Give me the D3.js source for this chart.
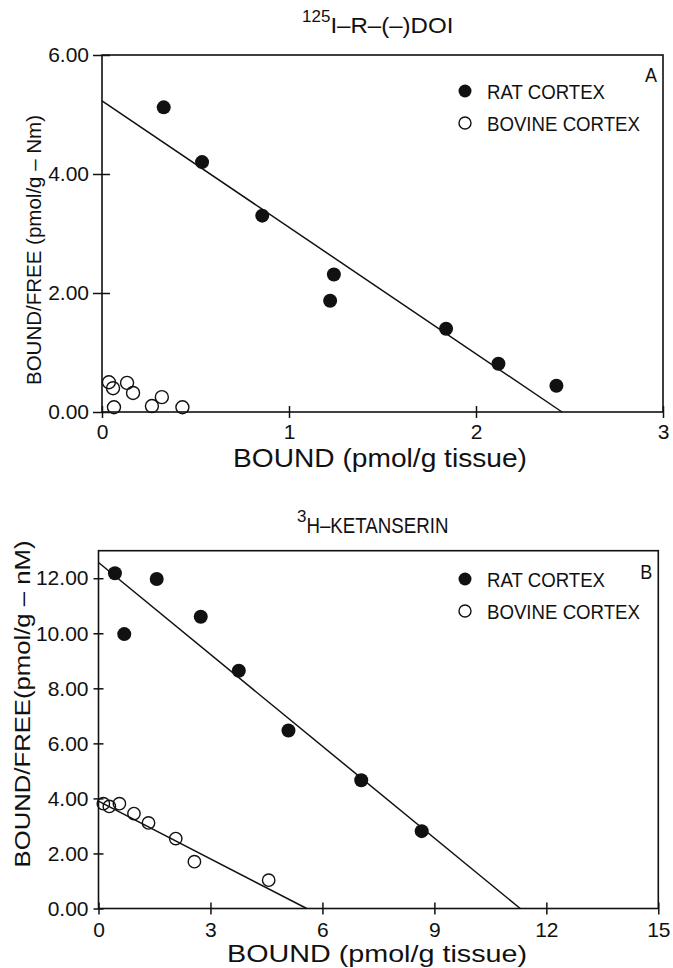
<!DOCTYPE html>
<html><head><meta charset="utf-8">
<script src="https://cdn.jsdelivr.net/npm/d3@7/dist/d3.min.js"></script>
<style>
body{margin:0;background:#fff;}
svg{display:block;font-family:"Liberation Sans",Arial,Helvetica,sans-serif;}
</style></head>
<body><svg id="c" width="673" height="968"></svg>
<script>
// ---- Panel A data: 125I-R-(-)DOI ----
const ratA_x = [0.33, 0.535, 0.857, 1.24, 1.22, 1.84, 2.12, 2.43];
const ratA_y = [5.12, 4.20, 3.30, 2.31, 1.87, 1.40, 0.81, 0.44];
const bovA_x = [0.037, 0.059, 0.134, 0.166, 0.064, 0.267, 0.32, 0.43];
const bovA_y = [0.50, 0.40, 0.49, 0.32, 0.08, 0.10, 0.25, 0.08];
const fitRatA = [[0, 5.23], [2.46, 0]];
const xTicksA = [0, 1, 2, 3];
const yTicksA = [0, 2, 4, 6];

// ---- Panel B data: 3H-KETANSERIN ----
const ratB_x = [0.44, 1.56, 0.69, 2.74, 3.76, 5.09, 7.04, 8.66];
const ratB_y = [12.18, 11.97, 9.97, 10.60, 8.64, 6.47, 4.66, 2.81];
const bovB_x = [0.13, 0.29, 0.56, 0.95, 1.34, 2.07, 2.57, 4.56];
const bovB_y = [3.81, 3.71, 3.81, 3.45, 3.11, 2.54, 1.70, 1.03];
const fitRatB = [[0, 12.57], [11.3, 0]];
const fitBovB = [[0, 3.9], [5.58, 0]];
const xTicksB = [0, 3, 6, 9, 12, 15];
const yTicksB = [0, 2, 4, 6, 8, 10, 12];

const legendLabels = ["RAT CORTEX", "BOVINE CORTEX"];

const svg = d3.select("#c");
const ink = "#111";

function panel(cfg) {
  const g = svg.append("g");
  const x = d3.scaleLinear().domain(cfg.xDom).range([cfg.left, cfg.right]);
  const y = d3.scaleLinear().domain(cfg.yDom).range([cfg.bottom, cfg.top]);

  // frame
  g.append("rect").attr("x", cfg.left).attr("y", cfg.top)
    .attr("width", cfg.right - cfg.left).attr("height", cfg.bottom - cfg.top)
    .attr("fill", "none").attr("stroke", ink).attr("stroke-width", 1.6);

  // axes outward
  const ya = g.append("g").attr("transform", `translate(${cfg.left},0)`)
    .call(d3.axisLeft(y).tickValues(cfg.yTicks).tickFormat(d3.format(".2f"))
      .tickSize(cfg.yTickOut).tickPadding(cfg.yPad));
  const xa = g.append("g").attr("transform", `translate(0,${cfg.bottom})`)
    .call(d3.axisBottom(x).tickValues(cfg.xTicks).tickFormat(d3.format("d"))
      .tickSize(cfg.xTickOut).tickPadding(cfg.xPad));
  // inward tick halves
  g.append("g").attr("transform", `translate(${cfg.left},0)`)
    .call(d3.axisLeft(y).tickValues(cfg.yTicks).tickFormat("").tickSize(-cfg.yTickIn));
  g.append("g").attr("transform", `translate(0,${cfg.bottom})`)
    .call(d3.axisBottom(x).tickValues(cfg.xTicks).tickFormat("").tickSize(-cfg.xTickIn));
  g.selectAll(".domain").remove();
  g.selectAll(".tick line").attr("stroke", ink).attr("stroke-width", 1.5);
  ya.selectAll("text").attr("font-size", cfg.tickFont).attr("fill", ink)
    .attr("font-family", "inherit");
  xa.selectAll("text").attr("font-size", cfg.tickFont).attr("fill", ink)
    .attr("font-family", "inherit");

  // fit lines
  const line = d3.line().x(d => x(d[0])).y(d => y(d[1]));
  cfg.fits.forEach(f => {
    g.append("path").attr("d", line(f)).attr("fill", "none")
      .attr("stroke", ink).attr("stroke-width", 1.5);
  });

  // points
  g.selectAll("circle.bov").data(d3.range(cfg.bx.length)).join("circle")
    .attr("class", "bov")
    .attr("cx", i => x(cfg.bx[i])).attr("cy", i => y(cfg.by[i]))
    .attr("r", cfg.rOpen).attr("fill", "none").attr("stroke", ink).attr("stroke-width", 1.4);
  g.selectAll("circle.rat").data(d3.range(cfg.rx.length)).join("circle")
    .attr("class", "rat")
    .attr("cx", i => x(cfg.rx[i])).attr("cy", i => y(cfg.ry[i]))
    .attr("r", cfg.rFill).attr("fill", ink);

  // legend
  const lg = g.append("g");
  const legLens = [118, 153];
  legendLabels.forEach((lab, i) => {
    const ly = cfg.legY + i * cfg.legGap;
    if (i === 0) lg.append("circle").attr("cx", cfg.legX).attr("cy", ly).attr("r", 6.5).attr("fill", ink);
    else lg.append("circle").attr("cx", cfg.legX).attr("cy", ly).attr("r", 6).attr("fill", "none")
      .attr("stroke", ink).attr("stroke-width", 1.4);
    lg.append("text").attr("x", cfg.legX + 22).attr("y", ly + 8)
      .attr("font-size", cfg.legFont).attr("fill", ink)
      .attr("textLength", legLens[i]).attr("lengthAdjust", "spacingAndGlyphs").text(lab);
  });
  g.append("text").attr("x", cfg.right - 6).attr("y", cfg.top + cfg.letterDy)
    .attr("text-anchor", "end").attr("font-size", 21).attr("fill", ink)
    .attr("textLength", 12).attr("lengthAdjust", "spacingAndGlyphs").text(cfg.letter);

  // title
  const t = g.append("text").attr("x", cfg.titleX).attr("y", cfg.titleY)
    .attr("font-size", cfg.titleFont).attr("fill", ink);
  t.append("tspan").attr("font-size", cfg.supFont).attr("dy", -11).text(cfg.sup);
  t.append("tspan").attr("dy", 11).attr("textLength", cfg.titleLen)
    .attr("lengthAdjust", "spacingAndGlyphs").text(cfg.title);

  // axis labels
  g.append("text").attr("x", cfg.xLabX).attr("y", cfg.xLabY).attr("text-anchor", "middle")
    .attr("font-size", cfg.xLabFont).attr("fill", ink).attr("textLength", cfg.xLabLen)
    .attr("lengthAdjust", "spacingAndGlyphs").text("BOUND (pmol/g tissue)");
  g.append("text").attr("transform", `translate(${cfg.yLabX},${cfg.yLabY}) rotate(-90)`)
    .attr("text-anchor", "middle").attr("font-size", cfg.yLabFont).attr("fill", ink)
    .attr("textLength", cfg.yLabLen).attr("lengthAdjust", "spacingAndGlyphs").text(cfg.yLab);
}

panel({
  xDom: [0, 3], yDom: [0, 6], left: 102, right: 663, top: 55, bottom: 412,
  xTicks: xTicksA, yTicks: yTicksA,
  yTickOut: 9, yTickIn: 8, yPad: 4, xTickOut: 6, xTickIn: 6, xPad: 6, tickFont: 21,
  fits: [fitRatA], rx: ratA_x, ry: ratA_y, bx: bovA_x, by: bovA_y, rOpen: 6.5, rFill: 7,
  legX: 465, legY: 91, legGap: 32, legFont: 21, letter: "A", letterDy: 27,
  titleX: 302, titleY: 33, titleFont: 22, supFont: 17, titleLen: 123,
  sup: "125", title: "I\u2013R\u2013(\u2013)DOI",
  xLabX: 380, xLabY: 467, xLabFont: 26, xLabLen: 294,
  yLabX: 41, yLabY: 250, yLabFont: 21, yLabLen: 270, yLab: "BOUND/FREE (pmol/g \u2013 Nm)"
});

panel({
  xDom: [0, 15], yDom: [0, 13], left: 98.5, right: 658.3, top: 550.7, bottom: 908.5,
  xTicks: xTicksB, yTicks: yTicksB,
  yTickOut: 5, yTickIn: 5, yPad: 5, xTickOut: 6, xTickIn: 6, xPad: 8, tickFont: 21,
  fits: [fitRatB, fitBovB], rx: ratB_x, ry: ratB_y, bx: bovB_x, by: bovB_y, rOpen: 6.2, rFill: 7,
  legX: 465, legY: 579, legGap: 32, legFont: 21, letter: "B", letterDy: 28,
  titleX: 297, titleY: 533, titleFont: 22, supFont: 17, titleLen: 142,
  sup: "3", title: "H\u2013KETANSERIN",
  xLabX: 377, xLabY: 962, xLabFont: 24, xLabLen: 300,
  yLabX: 30, yLabY: 704, yLabFont: 22, yLabLen: 327, yLab: "BOUND/FREE(pmol/g \u2013 nM)"
});
</script></body></html>
